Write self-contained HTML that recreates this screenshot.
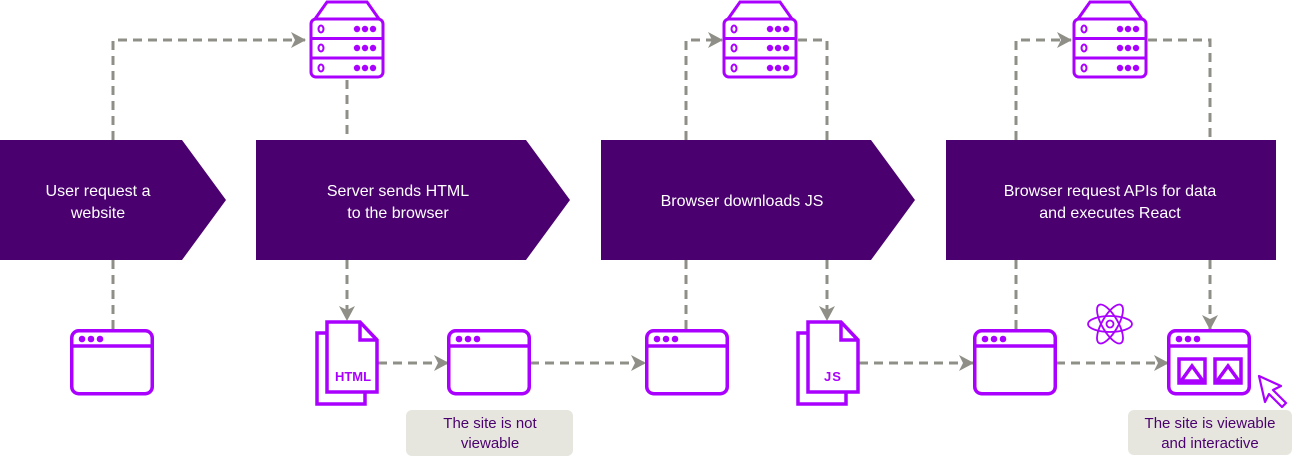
<!DOCTYPE html>
<html><head><meta charset="utf-8"><style>
html,body{margin:0;padding:0;background:#fff;}
svg{display:block;}
text{font-family:"Liberation Sans",Arial,sans-serif;}
</style></head><body>
<svg width="1295" height="456" viewBox="0 0 1295 456" xmlns="http://www.w3.org/2000/svg">
<defs>
<marker id="ar" markerWidth="18" markerHeight="18" refX="14" refY="8" orient="auto" markerUnits="userSpaceOnUse">
<path d="M0,0 L15,8 L0,16 L4,8 Z" fill="#8f8f87"/>
</marker>
<g id="srv" fill="none" stroke="#aa00ff" stroke-width="3">
<path d="M7,19 L19,2 L59,2 L71,19"/>
<rect x="3" y="19" width="72" height="58" rx="5"/>
<line x1="3" y1="38.5" x2="75" y2="38.5"/><line x1="3" y1="58" x2="75" y2="58"/>
<ellipse cx="13" cy="29" rx="2.5" ry="3.5" stroke-width="2"/>
<ellipse cx="13" cy="48" rx="2.5" ry="3.5" stroke-width="2"/>
<ellipse cx="13" cy="68" rx="2.5" ry="3.5" stroke-width="2"/>
<g fill="#aa00ff" stroke="none">
<circle cx="49" cy="29" r="3.2"/><circle cx="57" cy="29" r="3.2"/><circle cx="65" cy="29" r="3.2"/>
<circle cx="49" cy="48" r="3.2"/><circle cx="57" cy="48" r="3.2"/><circle cx="65" cy="48" r="3.2"/>
<circle cx="49" cy="68" r="3.2"/><circle cx="57" cy="68" r="3.2"/><circle cx="65" cy="68" r="3.2"/>
</g>
</g>
<g id="br" fill="none" stroke="#aa00ff" stroke-width="3.5">
<rect x="1.75" y="1.75" width="80.5" height="63" rx="7"/>
<line x1="1.75" y1="17" x2="82.25" y2="17"/>
<g fill="#aa00ff" stroke="none"><circle cx="12" cy="10" r="3.3"/><circle cx="21" cy="10" r="3.3"/><circle cx="30" cy="10" r="3.3"/></g>
</g>
<g id="doc" fill="#fff" stroke="#aa00ff" stroke-width="3.5">
<rect x="2" y="13" width="48" height="71"/>
<path d="M12,2 L45,2 L62,20 L62,72 L12,72 Z"/>
<path d="M45,2 L45,20 L62,20" fill="none"/>
</g>
</defs>

<g fill="none" stroke="#8f8f87" stroke-width="3" stroke-dasharray="9,6">
<path d="M113,140 L113,40 L305,40" marker-end="url(#ar)"/>
<path d="M347,80 L347,140"/>
<path d="M347,260 L347,320" marker-end="url(#ar)"/>
<path d="M378,363 L448,363" marker-end="url(#ar)"/>
<path d="M113,260 L113,329"/>
<path d="M530,363 L645,363" marker-end="url(#ar)"/>
<path d="M686,140 L686,40 L722,40" marker-end="url(#ar)"/>
<path d="M798,40 L827,40 L827,140"/>
<path d="M686,260 L686,329"/>
<path d="M827,260 L827,320" marker-end="url(#ar)"/>
<path d="M859,363 L973,363" marker-end="url(#ar)"/>
<path d="M1016,140 L1016,40 L1071,40" marker-end="url(#ar)"/>
<path d="M1148,40 L1210,40 L1210,140"/>
<path d="M1016,260 L1016,329"/>
<path d="M1210,260 L1210,329" marker-end="url(#ar)"/>
<path d="M1056,363 L1168,363" marker-end="url(#ar)"/>
</g>

<g fill="#4a006e">
<path d="M0,140 L182,140 L226,200 L182,260 L0,260 Z"/>
<path d="M256,140 L526,140 L570,200 L526,260 L256,260 Z"/>
<path d="M601,140 L871,140 L915,200 L871,260 L601,260 Z"/>
<rect x="946" y="140" width="330" height="120"/>
</g>
<g fill="#fff" font-size="16" text-anchor="middle">
<text x="98" y="196">User request a</text><text x="98" y="218">website</text>
<text x="398" y="196">Server sends HTML</text><text x="398" y="218">to the browser</text>
<text x="742" y="206">Browser downloads JS</text>
<text x="1110" y="196">Browser request APIs for data</text><text x="1110" y="218">and executes React</text>
</g>

<use href="#srv" x="308" y="0"/>
<use href="#srv" x="721" y="0"/>
<use href="#srv" x="1071" y="0"/>

<use href="#br" x="70" y="329"/>
<use href="#br" x="447" y="329"/>
<use href="#br" x="645" y="329"/>
<use href="#br" x="973" y="329"/>
<use href="#br" x="1167" y="329"/>
<g fill="none" stroke="#aa00ff" stroke-width="3.5">
<rect x="1179" y="359" width="26" height="24"/>
<rect x="1215" y="359" width="26" height="24"/>
<path d="M1181,381 L1192,366 L1203,381 Z"/>
<path d="M1217,381 L1228,366 L1239,381 Z"/>
</g>
<path d="M1259,376 L1281,386 L1273,390 L1286,403 L1282,407 L1269,394 L1265,402 Z" fill="#fff" stroke="#aa00ff" stroke-width="2.2" stroke-linejoin="round"/>
<g fill="none" stroke="#aa00ff" stroke-width="1.8">
<ellipse cx="1110" cy="324" rx="22" ry="8"/>
<ellipse cx="1110" cy="324" rx="22" ry="8" transform="rotate(60 1110 324)"/>
<ellipse cx="1110" cy="324" rx="22" ry="8" transform="rotate(-60 1110 324)"/>
<circle cx="1110" cy="324" r="3.5"/>
</g>

<use href="#doc" x="315" y="320"/>
<text x="353" y="381" font-size="13" font-weight="bold" fill="#aa00ff" text-anchor="middle">HTML</text>
<use href="#doc" x="796" y="320"/>
<text x="833" y="381" font-size="13" font-weight="bold" fill="#aa00ff" text-anchor="middle" letter-spacing="1">JS</text>

<rect x="406" y="410" width="167" height="46" rx="6" fill="#e6e6df"/>
<text x="490" y="428" font-size="15" fill="#4a006e" text-anchor="middle">The site is not</text>
<text x="490" y="448" font-size="15" fill="#4a006e" text-anchor="middle">viewable</text>
<rect x="1128" y="410" width="164" height="45" rx="6" fill="#e6e6df"/>
<text x="1210" y="428" font-size="15" fill="#4a006e" text-anchor="middle">The site is viewable</text>
<text x="1210" y="448" font-size="15" fill="#4a006e" text-anchor="middle">and interactive</text>
</svg>
</body></html>
